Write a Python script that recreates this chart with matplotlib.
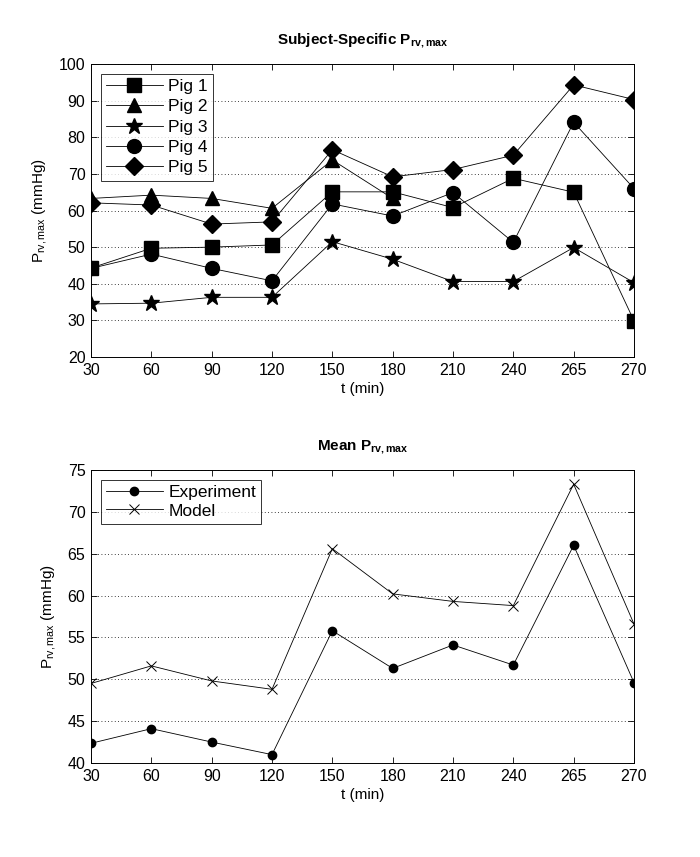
import numpy as np
import matplotlib
matplotlib.use("Agg")
import matplotlib.pyplot as plt

plt.rcParams['font.family'] = ['Liberation Sans', 'DejaVu Sans']
plt.rcParams['mathtext.fontset'] = 'custom'
plt.rcParams['mathtext.rm'] = 'Liberation Sans'
plt.rcParams['mathtext.it'] = 'Liberation Sans:italic'
plt.rcParams['mathtext.bf'] = 'Liberation Sans:bold'

time_labels = ['30', '60', '90', '120', '150', '180', '210', '240', '265', '270']

pig1 = [44.3, 49.7, 50.0, 50.6, 65.1, 65.1, 60.8, 68.8, 65.0, 29.9]
pig2 = [63.3, 64.2, 63.3, 60.6, 73.8, 63.3, np.nan, np.nan, np.nan, np.nan]
pig3 = [34.5, 34.7, 36.3, 36.3, 51.5, 46.7, 40.6, 40.6, 49.9, 40.3]
pig4 = [44.2, 48.1, 44.2, 40.8, 61.8, 58.5, 64.9, 51.3, 84.1, 66.0]
pig5 = [62.1, 61.5, 56.3, 56.9, 76.6, 69.2, 71.2, 75.1, 94.3, 90.3]

experiment = [42.35, 44.1, 42.5, 41.0, 55.8, 51.3, 54.1, 51.7, 66.0, 49.6]
model = [49.5, 51.6, 49.8, 48.8, 65.6, 60.2, 59.3, 58.8, 73.3, 56.6]

pig_series = [('Pig 1', pig1, 's'), ('Pig 2', pig2, '^'), ('Pig 3', pig3, '*'),
              ('Pig 4', pig4, 'o'), ('Pig 5', pig5, 'D')]

x = np.arange(1, len(time_labels) + 1)

fig = plt.figure(figsize=(7.0, 8.57), dpi=100)
ax1 = fig.add_axes([0.130, 0.5834, 0.7757, 0.3419])
ax2 = fig.add_axes([0.130, 0.1097, 0.7757, 0.3419])

msizes = {'s': 10, '^': 10, '*': 12, 'o': 10, 'D': 9}
for name, vals, m in pig_series:
    ax1.plot(x, vals, color='black', lw=0.6, marker=m, ms=msizes[m],
             mfc='black', mec='black', label=name)

ax2.plot(x, experiment, color='black', lw=0.6, marker='o', ms=6, label='Experiment')
ax2.plot(x, model, color='black', lw=0.6, marker='x', ms=7, mew=0.7, label='Model')

def style(ax, ylim, yticks, title):
    ax.set_xlim(1, 10)
    ax.set_ylim(*ylim)
    ax.set_xticks(x)
    ax.set_xticklabels(time_labels)
    ax.set_yticks(yticks)
    ax.tick_params(direction='in', top=True, right=True, length=4, width=0.6,
                   labelsize=11.5, pad=4)
    ax.yaxis.grid(True, linestyle=(0, (1, 3)), color='black', lw=0.6)
    for s in ax.spines.values():
        s.set_linewidth(0.7)
    ax.set_xlabel('t (min)', fontsize=11, labelpad=3)
    ax.set_ylabel(r'P$_{\mathrm{rv,max}}$ (mmHg)', fontsize=11, labelpad=7)
    ax.set_title(title, fontsize=11, fontweight='bold', pad=14)

style(ax1, (20, 100), np.arange(20, 101, 10), r'Subject-Specific P$_{\mathbf{rv,max}}$')
style(ax2, (40, 75), np.arange(40, 76, 5), r'Mean P$_{\mathbf{rv,max}}$')

leg1 = ax1.legend(loc='upper left', fontsize=12.5, frameon=True, fancybox=False,
                  edgecolor='black', handlelength=3.3, borderpad=0.3,
                  labelspacing=0.3, handletextpad=0.3, borderaxespad=0.55)
leg1.get_frame().set_linewidth(0.7)
leg2 = ax2.legend(loc='upper left', fontsize=12.5, frameon=True, fancybox=False,
                  edgecolor='black', handlelength=3.3, borderpad=0.3,
                  labelspacing=0.2, handletextpad=0.3, borderaxespad=0.55)
leg2.get_frame().set_linewidth(0.7)

fig.savefig('out.png', dpi=100, facecolor='white')
